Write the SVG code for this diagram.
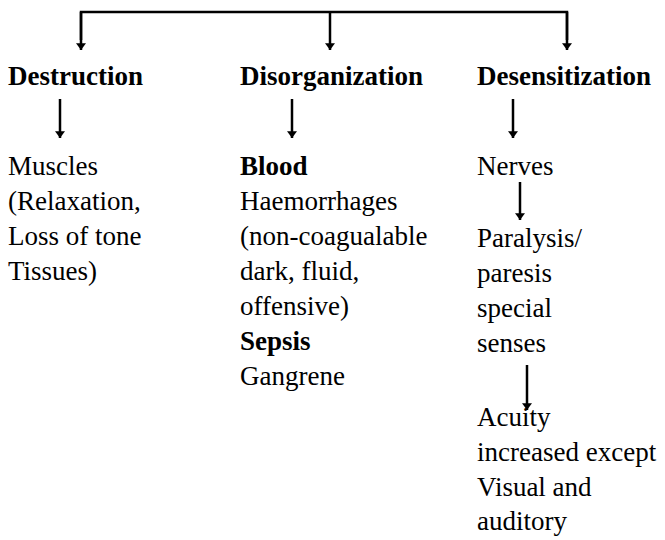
<svg xmlns="http://www.w3.org/2000/svg" width="665" height="540" viewBox="0 0 665 540">
<style>
text{font-family:"Liberation Serif","Times New Roman",serif;font-size:27px;fill:#000}
.b{font-weight:bold}
.c{stroke:#000;stroke-width:2.5;fill:none}
</style>
<defs>
<marker id="ah" viewBox="0 0 10 15" refX="10" refY="7.5" markerWidth="15" markerHeight="10" markerUnits="userSpaceOnUse" orient="auto">
<path d="M0,0 L10,7.5 L0,15 Z" fill="#000"/>
</marker>
</defs>
<rect width="665" height="540" fill="#fff"/>
<g id="connectors">
<path class="c" d="M81,40 V12 H567 V40"/>
<path class="c" d="M81,12 V50" marker-end="url(#ah)"/>
<path class="c" d="M330,12 V50" marker-end="url(#ah)"/>
<path class="c" d="M567,12 V50" marker-end="url(#ah)"/>
<path class="c" d="M60,99 V138" marker-end="url(#ah)"/>
<path class="c" d="M292,99 V138" marker-end="url(#ah)"/>
<path class="c" d="M513,99 V138" marker-end="url(#ah)"/>
<path class="c" d="M520,182 V220" marker-end="url(#ah)"/>
<path class="c" d="M527,365 V410" marker-end="url(#ah)"/>
</g>
<g id="destruction"><text class="b" x="8" y="85">Destruction</text></g>
<g id="disorganization"><text class="b" x="240" y="85">Disorganization</text></g>
<g id="desensitization"><text class="b" x="477" y="85">Desensitization</text></g>
<g id="muscles">
<text x="8" y="175">Muscles</text>
<text x="8" y="210">(Relaxation,</text>
<text x="8" y="245">Loss of tone</text>
<text x="8" y="280">Tissues)</text>
</g>
<g id="blood">
<text class="b" x="240" y="175">Blood</text>
<text x="240" y="210">Haemorrhages</text>
<text x="240" y="245">(non-coagualable</text>
<text x="240" y="280">dark, fluid,</text>
<text x="240" y="315">offensive)</text>
<text class="b" x="240" y="350">Sepsis</text>
<text x="240" y="385">Gangrene</text>
</g>
<g id="nerves"><text x="477" y="175">Nerves</text></g>
<g id="paralysis">
<text x="477" y="247">Paralysis/</text>
<text x="477" y="282">paresis</text>
<text x="477" y="317">special</text>
<text x="477" y="352">senses</text>
</g>
<g id="acuity">
<text x="477" y="426">Acuity</text>
<text x="477" y="461">increased except</text>
<text x="477" y="496">Visual and</text>
<text x="477" y="530">auditory</text>
</g>
</svg>
